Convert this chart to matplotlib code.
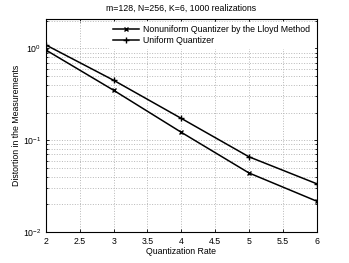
import matplotlib
matplotlib.use("Agg")
import matplotlib.pyplot as plt
from matplotlib.ticker import LogLocator, NullFormatter

plt.rcParams['font.family'] = ['Liberation Sans', 'DejaVu Sans']
plt.rcParams['mathtext.fontset'] = 'custom'
plt.rcParams['mathtext.rm'] = 'Liberation Sans'

rates = [2, 3, 4, 5, 6]
lloyd = [0.96, 0.35, 0.122, 0.044, 0.0217]
uniform = [1.09, 0.45, 0.173, 0.066, 0.0336]
title = "m=128, N=256, K=6, 1000 realizations"
xlabel = "Quantization Rate"
ylabel = "Distortion in the Measurements"
labels = ["Nonuniform Quantizer by the Lloyd Method", "Uniform Quantizer"]

fig = plt.figure(figsize=(3.49, 2.63), dpi=100)
ax = fig.add_axes([0.132, 0.118, 0.775, 0.81])
ax.semilogy(rates, lloyd, color='black', lw=1.1, marker='x', ms=3, mew=1.0, label=labels[0])
ax.semilogy(rates, uniform, color='black', lw=1.1, marker='+', ms=4, mew=1.0, label=labels[1])
ax.set_xlim(2, 6)
ax.set_ylim(0.01, 2.1)
ax.set_xticks([2, 2.5, 3, 3.5, 4, 4.5, 5, 5.5, 6])
ax.set_xticklabels(['2', '2.5', '3', '3.5', '4', '4.5', '5', '5.5', '6'])
ax.yaxis.set_major_locator(LogLocator(base=10, numticks=10))
ax.yaxis.set_minor_locator(LogLocator(base=10, subs=range(2, 10), numticks=20))
ax.yaxis.set_minor_formatter(NullFormatter())
ax.grid(True, which='major', ls=':', color='#b8b8b8', lw=0.7)
ax.grid(True, which='minor', axis='y', ls=':', color='#b8b8b8', lw=0.7)
ax.tick_params(which='both', direction='in', top=True, right=True, labelsize=6.3, length=2.5, width=0.6)
ax.tick_params(which='minor', length=1.5)
for s in ax.spines.values():
    s.set_linewidth(0.8)
ax.set_title(title, fontsize=6.3, pad=6)
ax.set_xlabel(xlabel, fontsize=6.3, labelpad=1)
ax.set_ylabel(ylabel, fontsize=6.3, labelpad=1)
leg = ax.legend(loc='upper right', fontsize=6.3, frameon=True, fancybox=False,
                edgecolor='white', framealpha=1, handlelength=3.0, handletextpad=0.5,
                borderaxespad=0.3, labelspacing=0.2)
fig.savefig("out.png", dpi=100)
